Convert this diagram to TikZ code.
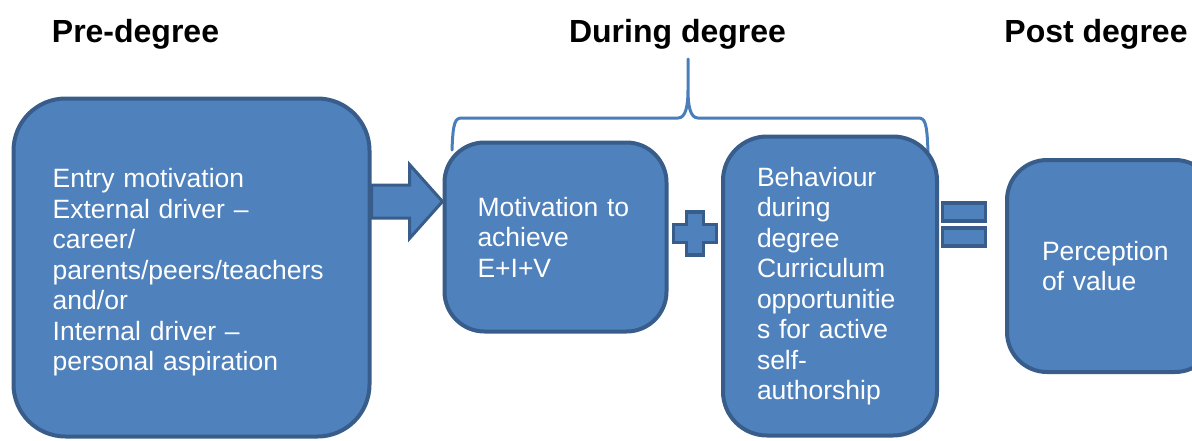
\documentclass[tikz,border=0pt]{standalone}
\usepackage{fontspec}
\setmainfont{Liberation Sans}
\usetikzlibrary{calc}
\definecolor{boxfill}{HTML}{4F81BD}
\definecolor{boxline}{HTML}{385D8A}
\definecolor{bracecol}{HTML}{4A7EBB}
\tikzset{
  box/.style={draw=boxline, fill=boxfill, line width=4pt, rectangle,
    text=white, align=left, font=\fontsize{26.5}{30.5}\selectfont,
    inner ysep=0pt},
  boxtext/.style={text=white, align=left, font=\fontsize{26.5}{30.5}\selectfont, inner sep=0pt},
  title/.style={font=\fontsize{32}{36}\selectfont\bfseries, anchor=base, inner sep=0pt},
  sym/.style={draw=boxline, fill=boxfill, line width=3.5pt, line join=miter},
  bracestyle/.style={draw=bracecol, line width=3pt, line cap=round, line join=round}
}
\begin{document}
\begin{tikzpicture}[x=1pt,y=-1pt]
\useasboundingbox (0,0) rectangle (1192,440);
\clip (0,0) rectangle (1192,440);
% brace
\coordinate (bl) at (452,150);
\coordinate (br) at (928,152);
\coordinate (btip) at (688,59);
\draw[bracestyle] (bl) .. controls (453,122) and (455,118) .. (462,118) -- (678,118)
  .. controls (686,118) and (688,105) .. (688,90) -- (btip)
  (688,90) .. controls (688,105) and (690,118) .. (698,118) -- (918,118)
  .. controls (925,118) and (927,122) .. (br);
% titles
\node[title] (t1) at (135.5,42) {Pre-degree};
\node[title] (t2) at (677.5,42) {During degree};
\node[title] (t3) at (1096,42) {Post degree};
% boxes
\node[box, rounded corners=52pt, minimum width=356pt, minimum height=338pt] (b1) at (191.5,267.5) {};
\node[boxtext, anchor=west, text width=276pt] (b1t) at ($(b1.west)+(41,5)$)
  {Entry motivation\\External driver –\\career/\\parents/peers/teachers\\and/or\\Internal driver –\\personal aspiration};
\node[box, rounded corners=40pt, minimum width=222pt, minimum height=189pt,
  inner xsep=33pt, text width=156pt] (b2) at (555.5,237)
  {Motivation to\\achieve\\E+I+V};
\node[box, rounded corners=44pt, minimum width=214pt, minimum height=299pt,
  inner xsep=34pt, text width=146pt] (b3) at (830,286)
  {Behaviour\\during\\degree\\Curriculum\\opportunitie\\s for active\\self-\\authorship};
\node[box, rounded corners=40pt, minimum width=208pt, minimum height=212pt,
  inner xsep=35pt, text width=138pt] (b4) at (1111,266)
  {Perception\\of value};
% block arrow from b1 to b2
\coordinate (a0) at (b1.east |- 0,201.5);
\coordinate (a1) at (b2.west |- 0,201.5);
\draw[sym, line width=3pt] ($(a0)+(0,-16.5)$) -- ($(a1)+(-33,-16.5)$) -- ($(a1)+(-33,-37)$)
  -- (a1) -- ($(a1)+(-33,37)$) -- ($(a1)+(-33,16.5)$) -- ($(a0)+(0,16.5)$) -- cycle;
% plus
\coordinate (pc) at (695,233.5);
\draw[sym] ($(pc)+(-8.5,-21.5)$) -- ($(pc)+(8.5,-21.5)$) -- ($(pc)+(8.5,-9)$) -- ($(pc)+(21.5,-9)$)
  -- ($(pc)+(21.5,9)$) -- ($(pc)+(8.5,9)$) -- ($(pc)+(8.5,21.5)$) -- ($(pc)+(-8.5,21.5)$)
  -- ($(pc)+(-8.5,9)$) -- ($(pc)+(-21.5,9)$) -- ($(pc)+(-21.5,-9)$) -- ($(pc)+(-8.5,-9)$) -- cycle;
% equals
\coordinate (ec) at (964,224.5);
\draw[sym] ($(ec)+(-21.5,-21.5)$) rectangle ($(ec)+(21.5,-3.5)$);
\draw[sym] ($(ec)+(-21.5,3.5)$) rectangle ($(ec)+(21.5,21.5)$);
\end{tikzpicture}
\end{document}
